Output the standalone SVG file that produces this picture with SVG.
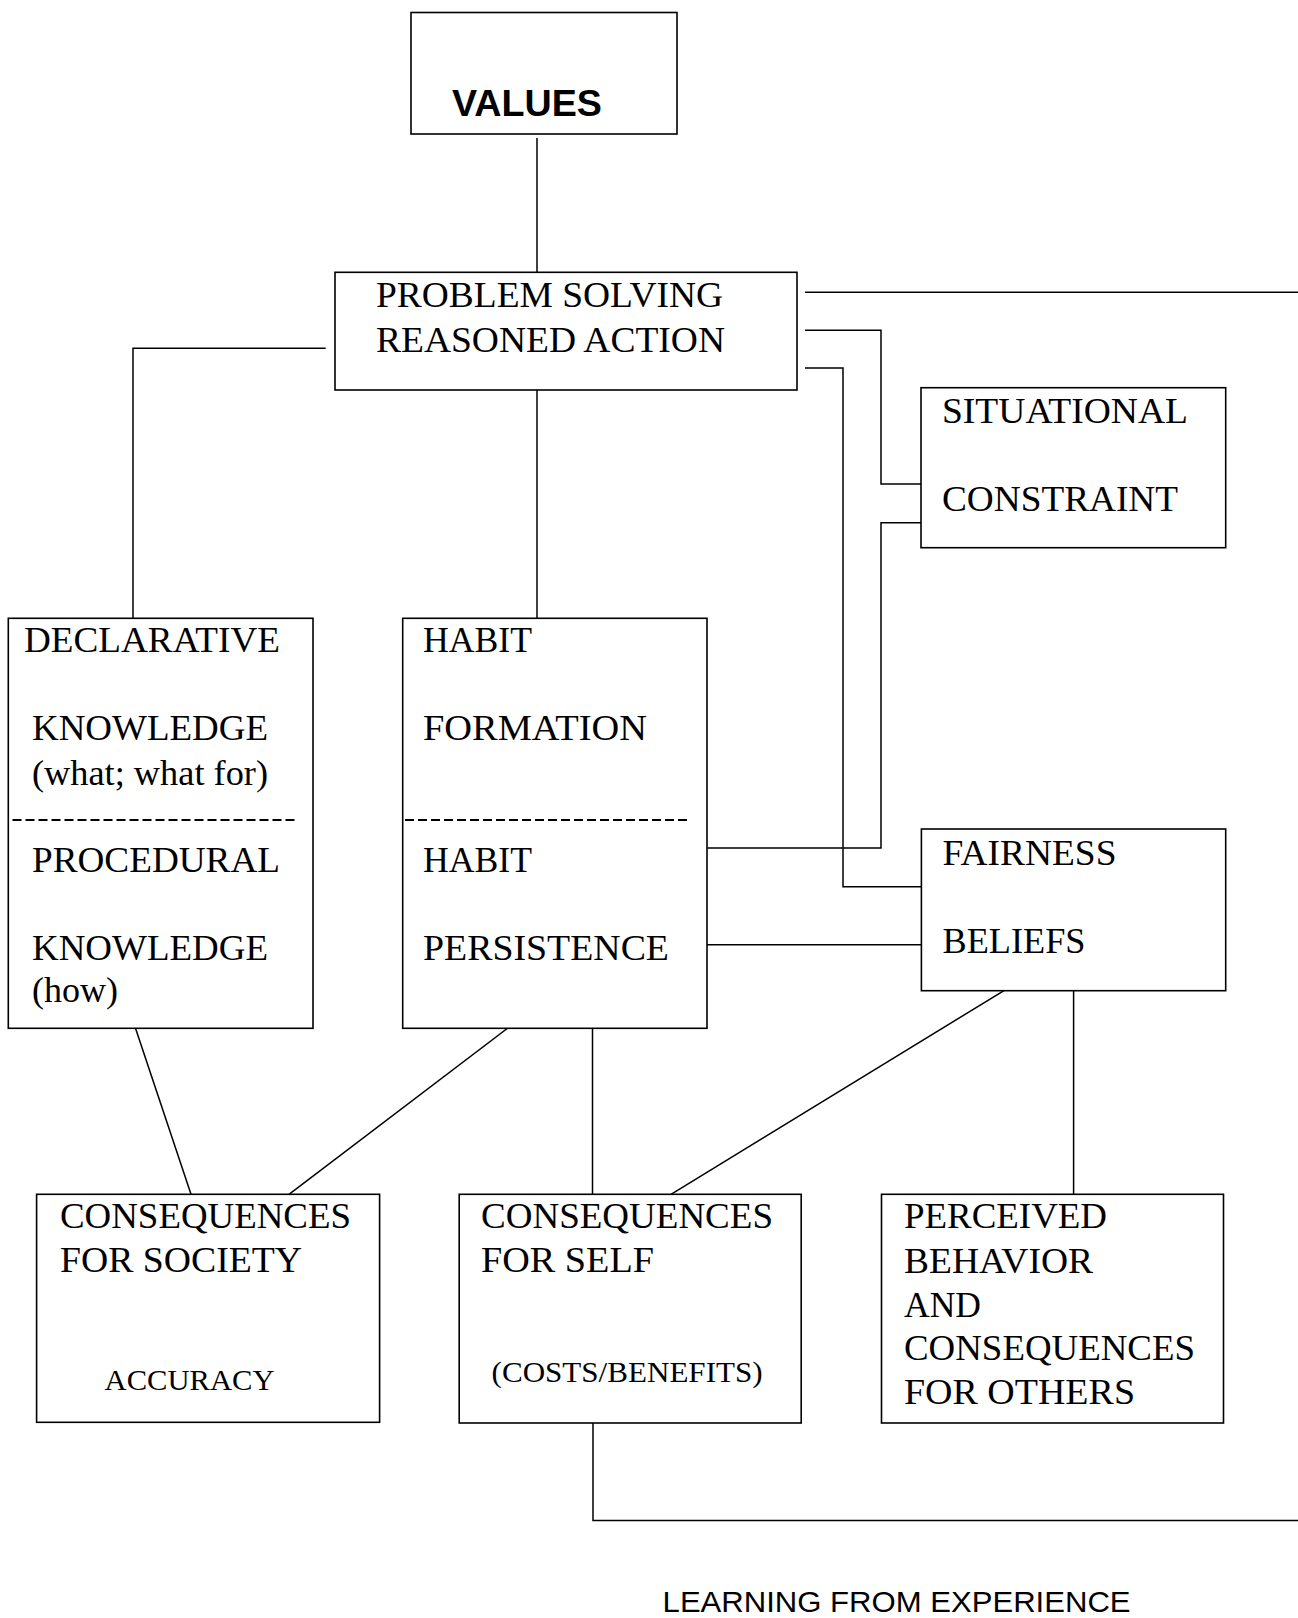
<svg xmlns="http://www.w3.org/2000/svg" width="1298" height="1618" viewBox="0 0 1298 1618">
  <style>
    .box { fill: #ffffff; stroke: #000000; stroke-width: 1.6; }
    .link { fill: none; stroke: #000000; stroke-width: 1.5; }
    .rule { stroke: #000000; stroke-width: 2; stroke-dasharray: 9 4; }
    .t { font-family: "Liberation Serif", "Times New Roman", serif; font-size: 36px; fill: #000000; }
    .ts { font-family: "Liberation Serif", "Times New Roman", serif; font-size: 29px; fill: #000000; }
    .hd { font-family: "Liberation Sans", Arial, sans-serif; font-size: 37px; font-weight: bold; fill: #000000; }
    .cap { font-family: "Liberation Sans", Arial, sans-serif; font-size: 30px; fill: #000000; }
  </style>

  <rect width="1298" height="1618" fill="#ffffff"/>

  <!-- connectors -->
  <g id="connectors">
    <path class="link" d="M537 138 V272"/>
    <path class="link" d="M325.7 348.3 H133 V618.3"/>
    <path class="link" d="M537 390 V618.3"/>
    <path class="link" d="M805 292.3 H1298"/>
    <path class="link" d="M805 330.3 H881 V484 H921"/>
    <path class="link" d="M805 368 H843 V886.7 H921"/>
    <path class="link" d="M921 522.7 H881 V848 H707"/>
    <path class="link" d="M707 944.7 H921"/>
    <path class="link" d="M133 1020.7 L191 1194.3"/>
    <path class="link" d="M517.5 1020.7 L289 1194.3"/>
    <path class="link" d="M592.5 1020.7 V1194.3"/>
    <path class="link" d="M1017.5 982.3 L671 1194.3"/>
    <path class="link" d="M1073.6 982.3 V1194.3"/>
    <path class="link" d="M593 1423 V1520.5 H1298"/>
  </g>

  <g id="values">
    <rect class="box" x="411" y="12.5" width="266" height="121.5"/>
    <text class="hd" x="452" y="116" textLength="150" lengthAdjust="spacingAndGlyphs">VALUES</text>
  </g>

  <g id="problem-solving">
    <rect class="box" x="335" y="272.3" width="462" height="117.7"/>
    <text class="t" x="376" y="306.7" textLength="347" lengthAdjust="spacingAndGlyphs">PROBLEM SOLVING</text>
    <text class="t" x="376" y="351.7" textLength="349" lengthAdjust="spacingAndGlyphs">REASONED ACTION</text>
  </g>

  <g id="situational-constraint">
    <rect class="box" x="921" y="387.7" width="304.7" height="160"/>
    <text class="t" x="942" y="423" textLength="246" lengthAdjust="spacingAndGlyphs">SITUATIONAL</text>
    <text class="t" x="942" y="510.7" textLength="236" lengthAdjust="spacingAndGlyphs">CONSTRAINT</text>
  </g>

  <g id="knowledge">
    <rect class="box" x="8.3" y="618.3" width="304.7" height="410"/>
    <text class="t" x="24" y="651.7" textLength="256" lengthAdjust="spacingAndGlyphs">DECLARATIVE</text>
    <text class="t" x="32" y="740" textLength="236" lengthAdjust="spacingAndGlyphs">KNOWLEDGE</text>
    <text class="t" x="32" y="785" textLength="236" lengthAdjust="spacingAndGlyphs">(what; what for)</text>
    <line class="rule" x1="12.5" y1="820" x2="298" y2="820"/>
    <text class="t" x="32" y="871.7" textLength="248" lengthAdjust="spacingAndGlyphs">PROCEDURAL</text>
    <text class="t" x="32" y="960" textLength="236" lengthAdjust="spacingAndGlyphs">KNOWLEDGE</text>
    <text class="t" x="32" y="1001.7" textLength="86" lengthAdjust="spacingAndGlyphs">(how)</text>
  </g>

  <g id="habit">
    <rect class="box" x="402.7" y="618.3" width="304.3" height="410"/>
    <text class="t" x="423" y="651.7" textLength="109" lengthAdjust="spacingAndGlyphs">HABIT</text>
    <text class="t" x="423" y="740" textLength="224" lengthAdjust="spacingAndGlyphs">FORMATION</text>
    <line class="rule" x1="405" y1="820" x2="690" y2="820"/>
    <text class="t" x="423" y="871.7" textLength="109" lengthAdjust="spacingAndGlyphs">HABIT</text>
    <text class="t" x="423" y="960" textLength="246" lengthAdjust="spacingAndGlyphs">PERSISTENCE</text>
  </g>

  <g id="fairness-beliefs">
    <rect class="box" x="921.4" y="829" width="304.3" height="161.7"/>
    <text class="t" x="942.5" y="865" textLength="174" lengthAdjust="spacingAndGlyphs">FAIRNESS</text>
    <text class="t" x="942.5" y="952.7" textLength="143" lengthAdjust="spacingAndGlyphs">BELIEFS</text>
  </g>

  <g id="consequences-society">
    <rect class="box" x="36.6" y="1194.3" width="343" height="228"/>
    <text class="t" x="60" y="1228.3" textLength="291" lengthAdjust="spacingAndGlyphs">CONSEQUENCES</text>
    <text class="t" x="60" y="1271.7" textLength="242" lengthAdjust="spacingAndGlyphs">FOR SOCIETY</text>
    <text class="ts" x="104.6" y="1390" textLength="170" lengthAdjust="spacingAndGlyphs">ACCURACY</text>
  </g>

  <g id="consequences-self">
    <rect class="box" x="459.2" y="1194.3" width="342" height="228.7"/>
    <text class="t" x="481" y="1228.3" textLength="292" lengthAdjust="spacingAndGlyphs">CONSEQUENCES</text>
    <text class="t" x="481" y="1271.7" textLength="173" lengthAdjust="spacingAndGlyphs">FOR SELF</text>
    <text class="ts" x="491.6" y="1381.7" textLength="271" lengthAdjust="spacingAndGlyphs">(COSTS/BENEFITS)</text>
  </g>

  <g id="perceived-behavior">
    <rect class="box" x="881.5" y="1194.3" width="342" height="228.7"/>
    <text class="t" x="904" y="1228.3" textLength="203" lengthAdjust="spacingAndGlyphs">PERCEIVED</text>
    <text class="t" x="904" y="1272.7" textLength="189" lengthAdjust="spacingAndGlyphs">BEHAVIOR</text>
    <text class="t" x="904" y="1316.7" textLength="77" lengthAdjust="spacingAndGlyphs">AND</text>
    <text class="t" x="904" y="1360" textLength="291" lengthAdjust="spacingAndGlyphs">CONSEQUENCES</text>
    <text class="t" x="904" y="1404" textLength="231" lengthAdjust="spacingAndGlyphs">FOR OTHERS</text>
  </g>

  <g id="learning">
    <text class="cap" x="662.6" y="1612" textLength="468" lengthAdjust="spacingAndGlyphs">LEARNING FROM EXPERIENCE</text>
  </g>
</svg>
